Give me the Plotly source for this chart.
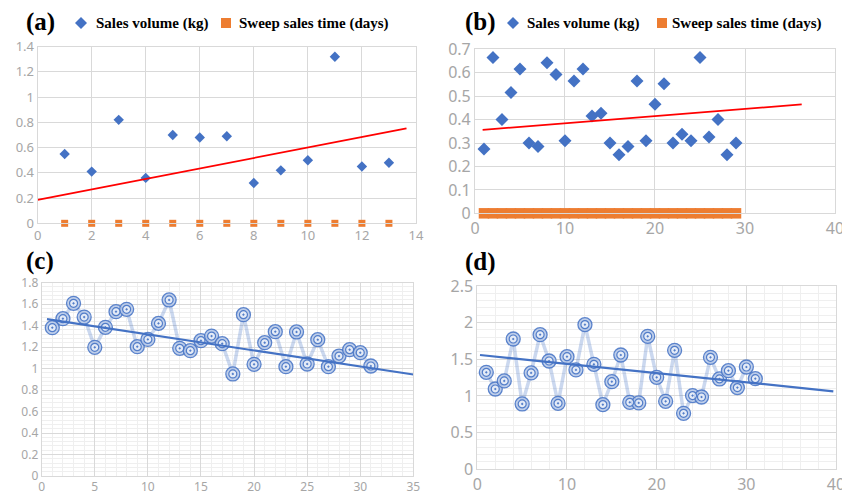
import plotly.graph_objects as go

W, H = 842, 499

# ---------------- data ----------------
a_days = list(range(1, 14))
a_sales = [0.55, 0.41, 0.82, 0.36, 0.70, 0.68, 0.69, 0.32, 0.42, 0.50, 1.32, 0.45, 0.48]
a_sweep = [0] * 13
a_trend_x = [0, 13.65]
a_trend_y = [0.185, 0.753]

b_days = list(range(1, 30))
b_sales = [0.275, 0.665, 0.40, 0.516, 0.616, 0.30, 0.285, 0.643, 0.592, 0.31,
           0.565, 0.616, 0.415, 0.427, 0.30, 0.25, 0.285, 0.565, 0.31, 0.465,
           0.553, 0.30, 0.337, 0.31, 0.665, 0.326, 0.40, 0.25, 0.30]
b_sweep = [0] * 29
b_trend_x = [0.85, 36.3]
b_trend_y = [0.356, 0.465]

c_days = list(range(1, 32))
c_vals = [1.381, 1.465, 1.608, 1.48, 1.198, 1.384, 1.53, 1.552, 1.204, 1.272,
          1.421, 1.639, 1.189, 1.167, 1.26, 1.303, 1.232, 0.95, 1.502, 1.04,
          1.241, 1.344, 1.018, 1.341, 1.043, 1.269, 1.018, 1.117, 1.176, 1.148, 1.024]
c_trend_x = [0.5, 35]
c_trend_y = [1.46, 0.945]

d_days = list(range(1, 32))
d_vals = [1.323, 1.095, 1.205, 1.777, 0.891, 1.314, 1.836, 1.477, 0.90, 1.536,
          1.355, 1.973, 1.432, 0.882, 1.195, 1.559, 0.914, 0.905, 1.814, 1.255,
          0.927, 1.623, 0.764, 1.005, 0.986, 1.527, 1.232, 1.345, 1.114, 1.395, 1.236]
d_trend_x = [0.3, 39.7]
d_trend_y = [1.559, 1.064]

panel_labels = ["(a)", "(b)", "(c)", "(d)"]
legend_names = ["Sales volume (kg)", "Sweep sales time (days)"]

BLUE = "#4472C4"
ORANGE = "#ED7D31"
RED = "#FF0000"
GRID = "#D9D9D9"
MINOR = "#EFEFEF"
TICKC = "#A6A6A6"
SERIF = "Liberation Serif"
SANS = "Noto Sans"

fig = go.Figure()

# ---- panel a ----
fig.add_trace(go.Scatter(x=a_days, y=a_sales, mode="markers", xaxis="x", yaxis="y",
                         marker=dict(symbol="diamond", size=8, color=BLUE), showlegend=False))
fig.add_trace(go.Scatter(x=a_days, y=a_sweep, mode="markers", xaxis="x", yaxis="y",
                         marker=dict(symbol="square", size=7, color=ORANGE), showlegend=False, cliponaxis=False))
fig.add_trace(go.Scatter(x=a_trend_x, y=a_trend_y, mode="lines", xaxis="x", yaxis="y",
                         line=dict(color=RED, width=1.8), showlegend=False))

# ---- panel b ----
fig.add_trace(go.Scatter(x=b_days, y=b_sales, mode="markers", xaxis="x2", yaxis="y2",
                         marker=dict(symbol="diamond", size=10, color=BLUE), showlegend=False))
fig.add_trace(go.Scatter(x=b_days, y=b_sweep, mode="markers", xaxis="x2", yaxis="y2",
                         marker=dict(symbol="square", size=10.5, color=ORANGE), showlegend=False, cliponaxis=False))
fig.add_trace(go.Scatter(x=b_trend_x, y=b_trend_y, mode="lines", xaxis="x2", yaxis="y2",
                         line=dict(color=RED, width=1.8), showlegend=False))

# ---- panels c, d ----
for days, vals, tx, ty, xa, ya in [(c_days, c_vals, c_trend_x, c_trend_y, "x3", "y3"),
                                   (d_days, d_vals, d_trend_x, d_trend_y, "x4", "y4")]:
    fig.add_trace(go.Scatter(x=days, y=vals, mode="lines+markers", xaxis=xa, yaxis=ya,
                             line=dict(color="rgba(68,114,196,0.28)", width=3.5),
                             marker=dict(symbol="circle", size=14, color="rgba(180,199,231,0.85)",
                                         line=dict(color="rgba(68,114,196,0.85)", width=1.3)),
                             showlegend=False))
    fig.add_trace(go.Scatter(x=days, y=vals, mode="markers", xaxis=xa, yaxis=ya,
                             marker=dict(symbol="circle-dot", size=8, color="rgba(255,255,255,0.6)",
                                         line=dict(color="rgba(68,114,196,0.9)", width=1.2)),
                             showlegend=False))
    fig.add_trace(go.Scatter(x=tx, y=ty, mode="lines", xaxis=xa, yaxis=ya,
                             line=dict(color=BLUE, width=2.2), showlegend=False))


def xax(dom, rng, dtick, fs, minor=None):
    d = dict(domain=dom, range=rng, dtick=dtick, tick0=0, showgrid=True, gridcolor=GRID,
             gridwidth=1, zeroline=False, showline=True, mirror=True, linecolor=GRID,
             ticks="", tickfont=dict(family=SANS, size=fs, color=TICKC), automargin=False,
             ticklabeloverflow="allow")
    if minor:
        d["minor"] = dict(dtick=minor, showgrid=True, gridcolor=MINOR, gridwidth=1, tick0=0)
    return d


def px(x):
    return x / W


def py(y):
    return 1 - y / H


layout = dict(
    width=W, height=H, margin=dict(l=0, r=0, t=0, b=0),
    paper_bgcolor="white", plot_bgcolor="white", showlegend=False,
    xaxis=xax([0.0447, 0.494], [0, 14], 2, 13),
    yaxis=xax([0.5525, 0.9064], [0, 1.4], 0.2, 13),
    xaxis2=xax([0.5641, 0.9917], [0, 40], 10, 16),
    yaxis2=xax([0.5725, 0.9012], [0, 0.7], 0.1, 16),
    xaxis3=xax([0.0495, 0.4909], [0, 35], 5, 12, minor=1),
    yaxis3=xax([0.0461, 0.4335], [0, 1.8], 0.2, 12, minor=0.04),
    xaxis4=xax([0.5669, 0.9929], [0, 40], 10, 16, minor=2),
    yaxis4=xax([0.0595, 0.4269], [0, 2.5], 0.5, 16, minor=0.1),
)
for i in (1, 2, 3, 4):
    s = "" if i == 1 else str(i)
    layout["xaxis" + s]["anchor"] = "y" + s
    layout["yaxis" + s]["anchor"] = "x" + s
fig.update_layout(**layout)

# panel labels
label_pos = [(40, 22), (480, 22), (40, 261), (480, 262)]
for lab, (lx, ly) in zip(panel_labels, label_pos):
    fig.add_annotation(x=px(lx), y=py(ly), xref="paper", yref="paper", text="<b>%s</b>" % lab,
                       showarrow=False, xanchor="center", yanchor="middle",
                       font=dict(family=SERIF, size=25, color="black"))

# legends (a) and (b)
leg_spec = [(81, 94, 226, 237, 23), (513, 525, 662, 670, 23)]
for dx, t1, sx, t2, ly in leg_spec:
    r = 6
    path = "M {} {} L {} {} L {} {} L {} {} Z".format(
        px(dx), py(ly - r), px(dx + r), py(ly), px(dx), py(ly + r), px(dx - r), py(ly))
    fig.add_shape(type="path", path=path, xref="paper", yref="paper",
                  fillcolor=BLUE, line=dict(width=0))
    s = 5
    fig.add_shape(type="rect", xref="paper", yref="paper",
                  x0=px(sx - s), x1=px(sx + s), y0=py(ly + s), y1=py(ly - s),
                  fillcolor=ORANGE, line=dict(width=0))
    fig.add_annotation(x=px(t1), y=py(ly), xref="paper", yref="paper",
                       text="<b>%s</b>" % legend_names[0], showarrow=False,
                       xanchor="left", yanchor="middle",
                       font=dict(family=SERIF, size=15, color="black"))
    fig.add_annotation(x=px(t2), y=py(ly), xref="paper", yref="paper",
                       text="<b>%s</b>" % legend_names[1], showarrow=False,
                       xanchor="left", yanchor="middle",
                       font=dict(family=SERIF, size=15, color="black"))

fig.write_html("out.html",
               config={"displayModeBar": False, "staticPlot": True},
               post_script="document.body.style.margin='0';document.body.style.padding='0';"
                           "document.body.style.overflow='hidden';")
